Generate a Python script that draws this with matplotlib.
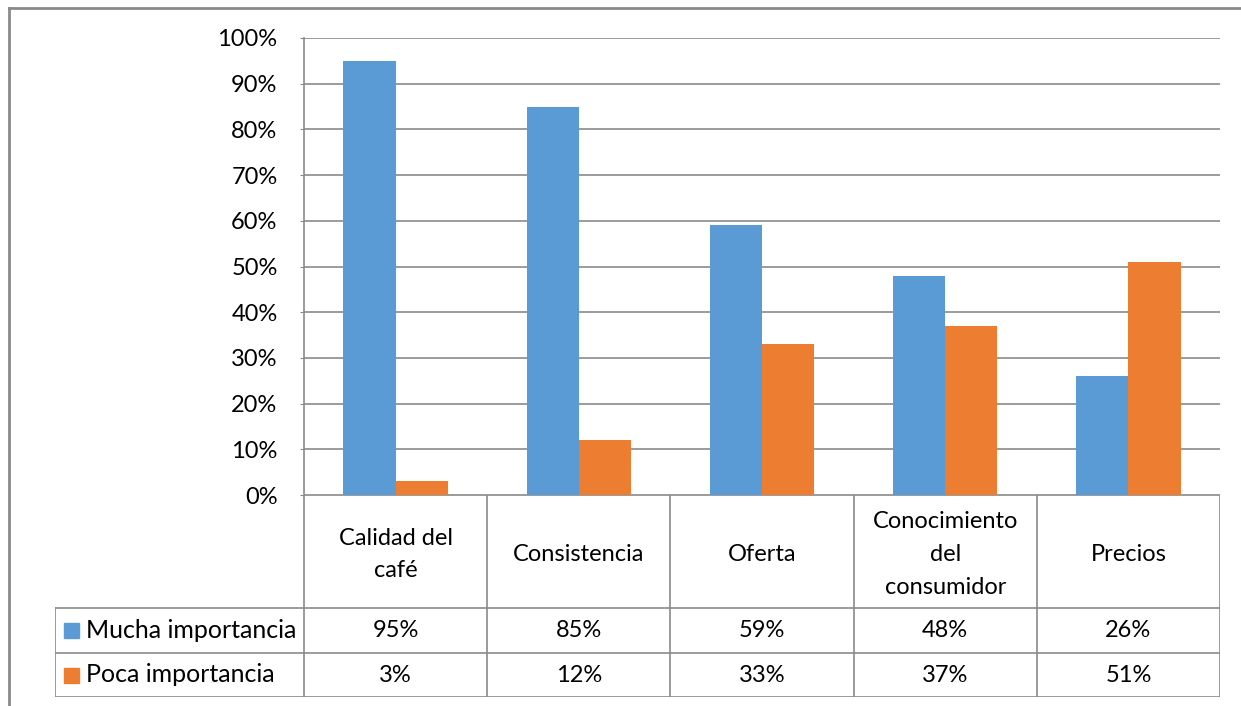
import numpy as np
import matplotlib.pyplot as plt
from matplotlib.patches import Rectangle

plt.rc('font', family=['Lato', 'DejaVu Sans'], size=17)

categorias = ['Calidad del\ncafé', 'Consistencia', 'Oferta', 'Conocimiento\ndel\nconsumidor', 'Precios']
series = ['Mucha importancia', 'Poca importancia']
mucha = [95, 85, 59, 48, 26]
poca = [3, 12, 33, 37, 51]
colores = ['#5B9BD5', '#ED7D31']
yticks = np.arange(0, 101, 10)

W, H = 1241, 706
fig = plt.figure(figsize=(W/100, H/100), dpi=100)
gris = '#8a8a8a'

# pixel layout of plot area and data table
x0, x1 = 304, 1220
y_top, y_base = 38, 495
y_rows = [495, 608, 653, 697]
x_leg = 55

ax = fig.add_axes([x0/W, 1-y_base/H, (x1-x0)/W, (y_base-y_top)/H])
n = len(categorias)
x = np.arange(n)
bw = 0.285
ax.bar(x - bw/2, mucha, bw, color=colores[0], zorder=3)
ax.bar(x + bw/2, poca, bw, color=colores[1], zorder=3)
ax.set_xlim(-0.5, n-0.5)
ax.set_ylim(0, 100)
ax.set_yticks(yticks)
ax.set_yticklabels(['%d%%' % v for v in yticks])
ax.yaxis.grid(True, color=gris, lw=1.2, zorder=0)
ax.set_xticks([])
for s in ['top', 'right', 'bottom']:
    ax.spines[s].set_visible(False)
ax.spines['left'].set_color(gris)
ax.spines['left'].set_linewidth(1.2)
ax.tick_params(axis='y', length=3, color=gris, pad=16, labelsize=17)

# data table below the axis, same category scale
unit = (x1-x0)/n
tab = fig.add_axes([x_leg/W, 1-y_rows[-1]/H, (x1-x_leg)/W, (y_rows[-1]-y_rows[0])/H])
tab.set_xlim(-0.5-(x0-x_leg)/unit, n-0.5)
tab.set_ylim(y_rows[-1], y_rows[0])
tab.axis('off')
kw = dict(color=gris, lw=1.2)
tab.plot([-0.5, n-0.5], [y_rows[0]]*2, **kw)
for yy in y_rows[1:]:
    tab.plot(tab.get_xlim(), [yy]*2, **kw)
for b in np.arange(n+1) - 0.5:
    tab.plot([b, b], [y_rows[0], y_rows[-1]], **kw)
xl = tab.get_xlim()[0]
tab.plot([xl, xl], [y_rows[1], y_rows[-1]], **kw)

for i, c in enumerate(categorias):
    tab.text(i, (y_rows[0]+y_rows[1])/2 + 3, c, ha='center', va='center', fontsize=17, linespacing=1.7)
for r, (nombre, vals) in enumerate(zip(series, [mucha, poca])):
    yc = (y_rows[r+1]+y_rows[r+2])/2
    for i, v in enumerate(vals):
        tab.text(i, yc, '%d%%' % v, ha='center', va='center', fontsize=17)
    sq = 15/unit
    tab.add_patch(Rectangle((xl + 9/unit, yc-7.5), sq, 15, color=colores[r]))
    tab.text(xl + 31/unit, yc, nombre, ha='left', va='center', fontsize=18)

# chart border
fig.add_artist(plt.Line2D([9/W, 9/W], [0, 1-8/H], color=gris, lw=2))
fig.add_artist(plt.Line2D([9/W, 1], [1-8/H, 1-8/H], color=gris, lw=2))

fig.savefig('out.png', dpi=100)
